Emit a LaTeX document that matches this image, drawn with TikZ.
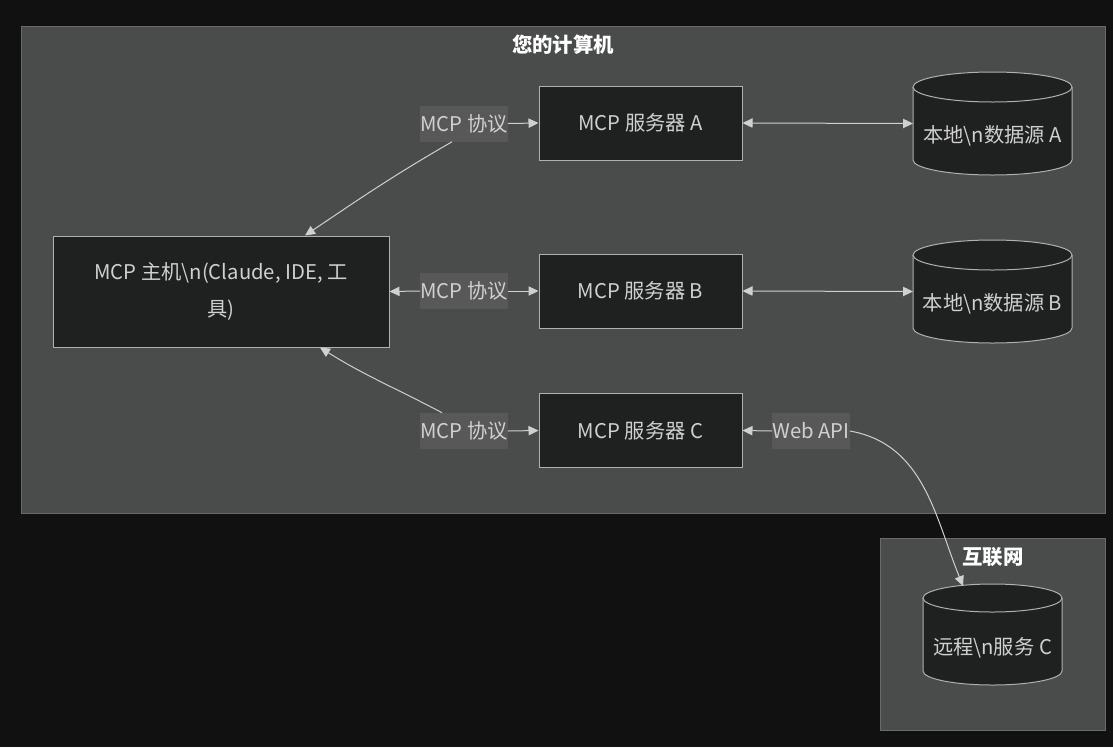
\documentclass[tikz,border=0pt]{standalone}
\usepackage{fontspec}
\setmainfont{Noto Sans CJK SC}
\usetikzlibrary{arrows.meta,calc}
\definecolor{bgdark}{HTML}{111111}
\definecolor{clusterfill}{HTML}{4A4B4B}
\definecolor{clusterline}{HTML}{6A6A6A}
\definecolor{nodefill}{HTML}{1F2020}
\definecolor{nodeline}{HTML}{B0B0B0}
\definecolor{lblfill}{HTML}{585858}
\definecolor{txt}{HTML}{D0D0D0}
\definecolor{edge}{HTML}{D0D0D0}
\tikzset{
  cluster/.style={draw=clusterline, fill=clusterfill, line width=0.75pt},
  title/.style={text=white, font=\fontsize{15.3pt}{17pt}\selectfont\bfseries},
  srvbox/.style={draw=nodeline, fill=nodefill, line width=0.75pt, text=txt, inner sep=0pt,
     minimum width=152.25pt, minimum height=55.5pt, font=\fontsize{15.2pt}{17pt}\selectfont},
  hostbox/.style={srvbox, minimum width=252pt, minimum height=83.25pt, align=center,
     font=\fontsize{15.2pt}{27.75pt}\selectfont},
  lbl/.style={fill=lblfill, text=txt, inner sep=0pt, minimum width=64.5pt, minimum height=27pt,
     font=\fontsize{15.2pt}{17pt}\selectfont},
  cyltext/.style={text=txt, inner sep=0pt, font=\fontsize{15.2pt}{17pt}\selectfont},
  helper/.style={inner sep=0pt, outer sep=0pt},
  conn/.style={draw=edge, line width=0.75pt},
  tipr/.style={conn, -{Triangle[length=7.5pt,width=7pt]}},
  tipb/.style={conn, {Triangle[length=7.5pt,width=7pt]}-{Triangle[length=7.5pt,width=7pt]}},
  cylline/.style={draw=nodeline, line width=0.75pt}
}
\newcommand\dbcyl[5]{%
  \fill[nodefill] ({#1-#4},#2) rectangle ({#1+#4},#3);
  \fill[nodefill] (#1,#3) ellipse[x radius={#4*0.75pt}, y radius={#5*0.75pt}];
  \draw[cylline] ({#1-#4},#2) -- ({#1-#4},#3)
     arc[start angle=180, end angle=360, x radius={#4*0.75pt}, y radius={#5*0.75pt}]
     -- ({#1+#4},#2);
  \filldraw[cylline, fill=nodefill] (#1,#2) ellipse[x radius={#4*0.75pt}, y radius={#5*0.75pt}];
}
\begin{document}
\begin{tikzpicture}[x=0.75pt,y=-0.75pt]
\useasboundingbox (0,0) rectangle (1113,747);
\fill[bgdark] (0,0) rectangle (1113,747);
% clusters
\draw[cluster] (21,26) rectangle (1105,513);
\node[title] (t1) at (563,45) {您的计算机};
\draw[cluster] (880,538) rectangle (1105,730);
\node[title] (t2) at (993,557) {互联网};
% nodes
\node[hostbox] (host) at (221,291.5) {MCP 主机\textbackslash n(Claude, IDE, 工\\具)};
\node[srvbox] (srvA) at (640.5,123) {MCP 服务器 A};
\node[srvbox] (srvB) at (640.5,291) {MCP 服务器 B};
\node[srvbox] (srvC) at (640.5,430.5) {MCP 服务器 C};
% cylinders
\dbcyl{992.5}{87}{160}{79.5}{15}
\dbcyl{992.5}{255}{328}{79.5}{15}
\dbcyl{992.5}{598}{671}{69.5}{14}
\node[helper, minimum width=119.25pt, minimum height=77.25pt] (cylA) at (992.5,123.5) {};
\node[helper, minimum width=119.25pt, minimum height=77.25pt] (cylB) at (992.5,291.5) {};
\node[helper, minimum width=104.25pt, minimum height=75.75pt] (cylC) at (992.5,634.5) {};
\node[cyltext] (cylAt) at (992.5,136) {本地\textbackslash n数据源 A};
\node[cyltext] (cylBt) at (992.5,304) {本地\textbackslash n数据源 B};
\node[cyltext] (cylCt) at (992.5,648) {远程\textbackslash n服务 C};
% labels
\node[lbl] (lblA) at (464,123.5) {MCP 协议};
\node[lbl] (lblB) at (464,291) {MCP 协议};
\node[lbl] (lblC) at (464,431) {MCP 协议};
\node[lbl, minimum width=55.5pt] (lblW) at (811,431) {Web API};
% connectors
\coordinate (hA) at ($(host.north)+(84,0)$);
\coordinate (hC) at ($(host.south)+(99,0)$);
\coordinate (lA) at ($(lblA.south)+(-12,0)$);
\coordinate (lC) at ($(lblC.north)+(-22,0)$);
\coordinate (cCin) at (963,586);
\draw[tipr] (lA) to[out=210, in=34] (hA);
\draw[tipr] (lblA.east) -- (srvA.west);
\draw[tipr] (lblB.west) -- (host.east);
\draw[tipr] (lblB.east) -- (srvB.west);
\draw[tipr] (lC) to[out=152, in=-32] (hC);
\draw[tipr] (lblC.east) -- (srvC.west);
\draw[tipb] (srvA.east) -- (cylA.west);
\draw[tipb] (srvB.east) -- (cylB.west);
\draw[tipr] (lblW.west) -- (srvC.east);
\draw[tipr] (lblW.east) to[out=-10, in=112] (cCin);
\end{tikzpicture}
\end{document}
